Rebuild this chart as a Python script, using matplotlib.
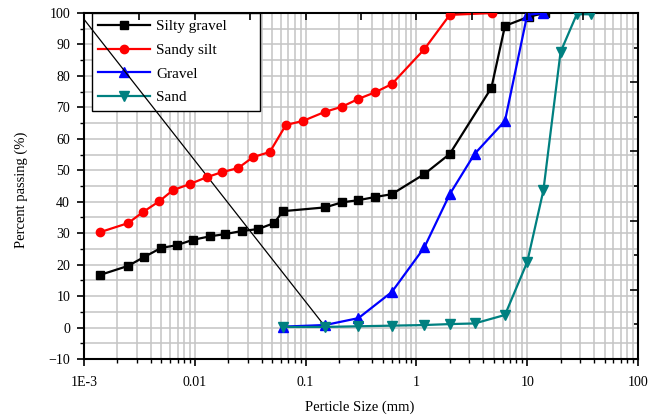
import matplotlib
matplotlib.use("Agg")
import matplotlib.pyplot as plt
from matplotlib.ticker import FixedLocator, NullFormatter, LogLocator
import numpy as np

# ---- data ----
silty_x = [0.00139, 0.0025, 0.00348, 0.00496, 0.0069, 0.00964, 0.0137, 0.0187, 0.0267,
           0.0372, 0.0519, 0.0625, 0.15, 0.213, 0.3, 0.425, 0.6, 1.18, 2.0, 4.75, 6.3, 10.3, 14.5]
silty_y = [16.7, 19.6, 22.4, 25.3, 26.2, 27.9, 29.0, 29.7, 30.7,
           31.3, 33.2, 37.0, 38.2, 39.8, 40.5, 41.5, 42.4, 48.8, 55.2, 76.2, 95.9, 98.8, 100.0]

sandy_x = [0.00139, 0.0025, 0.0034, 0.0048, 0.00636, 0.009, 0.0128, 0.0176, 0.0246,
           0.0336, 0.0475, 0.0664, 0.0949, 0.15, 0.213, 0.3, 0.425, 0.6, 1.18, 2.0, 4.8]
sandy_y = [30.3, 33.2, 36.7, 40.2, 43.7, 45.6, 47.8, 49.4, 50.7,
           54.2, 55.8, 64.4, 65.7, 68.6, 70.2, 72.7, 74.8, 77.4, 88.5, 99.4, 100.0]

gravel_x = [0.063, 0.15, 0.3, 0.6, 1.18, 2.0, 3.35, 6.3, 10.0, 14.0]
gravel_y = [0.3, 0.8, 3.0, 11.3, 25.5, 42.4, 55.2, 65.7, 99.4, 100.0]

sand_x = [0.063, 0.15, 0.3, 0.6, 1.18, 2.0, 3.35, 6.3, 10.0, 14.0, 20.0, 28.0, 37.5]
sand_y = [0.2, 0.2, 0.4, 0.6, 0.8, 1.1, 1.3, 4.0, 20.8, 43.6, 87.6, 99.6, 99.6]

diag_x = [0.001, 0.15]
diag_y = [98.0, 0.3]

xtick_vals = [0.001, 0.01, 0.1, 1, 10, 100]
xtick_labels = ["1E-3", "0.01", "0.1", "1", "10", "100"]
ytick_vals = [-10, 0, 10, 20, 30, 40, 50, 60, 70, 80, 90, 100]

plt.rcParams['font.family'] = ['Liberation Serif', 'DejaVu Serif']

fig = plt.figure(figsize=(6.49, 4.19), dpi=100)
ax = fig.add_axes([84/649, 1-359/419, (638-84)/649, (359-13)/419])

ax.set_xscale('log')
ax.set_xlim(0.001, 100)
ax.set_ylim(-10, 100)

# grid
ax.set_axisbelow(True)
ax.grid(True, which='both', axis='x', color='#c4c4c4', lw=1.1)
ax.yaxis.set_minor_locator(FixedLocator(np.arange(-5, 100, 10)))
ax.grid(True, which='both', axis='y', color='#c4c4c4', lw=1.1)

ax.plot(diag_x, diag_y, color='black', lw=0.9, zorder=3)

ax.plot(silty_x, silty_y, color='black', lw=1.6, marker='s', ms=5.5, label='Silty gravel', zorder=4)
ax.plot(sandy_x, sandy_y, color='red', lw=1.6, marker='o', ms=6, label='Sandy silt', zorder=4)
ax.plot(gravel_x, gravel_y, color='blue', lw=1.6, marker='^', ms=7, label='Gravel', zorder=4)
ax.plot(sand_x, sand_y, color='#008080', lw=1.6, marker='v', ms=7, label='Sand', zorder=4)

ax.set_xticks(xtick_vals)
ax.set_xticklabels(xtick_labels)
ax.xaxis.set_minor_locator(LogLocator(base=10, subs=np.arange(2, 10), numticks=20))
ax.xaxis.set_minor_formatter(NullFormatter())
ax.set_yticks(ytick_vals)

ax.tick_params(axis='both', which='major', direction='out', length=5, width=1.2,
               labelsize=10, pad=5)
ax.tick_params(axis='both', which='minor', direction='out', length=3, width=1.0)
ax.tick_params(axis='x', which='major', pad=7)

for s in ax.spines.values():
    s.set_linewidth(1.5)
    s.set_color('black')

ax.set_ylabel('Percent passing (%)', fontsize=10.5)
ax.set_xlabel('Perticle Size (mm)', fontsize=10.5)
ax.xaxis.set_label_coords((360-84)/554, -(401-359)/346)
ax.yaxis.set_label_coords(-(84-28)/554, (359-190)/346)

leg = ax.legend(loc='upper left', bbox_to_anchor=((92-84)/554, 0.0, (260-92)/554, 1.0),
                mode='expand', fontsize=11, frameon=True, fancybox=False,
                edgecolor='black', framealpha=1, borderaxespad=0.0,
                handlelength=3.4, handletextpad=0.4, labelspacing=0.66, borderpad=0.42)
leg.get_frame().set_linewidth(1.0)
leg.set_zorder(2.9)

# opposite axes ticks (inward, no labels)
axr = ax.twinx()
axr.set_ylim(0, 5)
axr.set_yticks(range(6))
axr.yaxis.set_minor_locator(FixedLocator(np.arange(0.5, 5, 1)))
axr.tick_params(axis='y', which='major', direction='in', length=6, width=1.2, labelright=False)
axr.tick_params(axis='y', which='minor', direction='in', length=3, width=1.2)
axt = axr.twiny()
axt.set_xscale('log')
axt.set_xlim(0.001, 100)
axt.set_xticks([10**k for k in range(-3, 3)])
axt.xaxis.set_minor_locator(FixedLocator([10**(k + 0.5) for k in range(-3, 2)]))
axt.xaxis.set_minor_formatter(NullFormatter())
axt.tick_params(axis='x', which='major', direction='in', length=5, width=1.2, labeltop=False)
axt.tick_params(axis='x', which='minor', direction='in', length=5, width=1.2)
for a in (axr, axt):
    for s in a.spines.values():
        s.set_visible(False)
axt.tick_params(axis='y', left=False, right=False, labelleft=False, labelright=False)

fig.savefig('out.png', dpi=100)
